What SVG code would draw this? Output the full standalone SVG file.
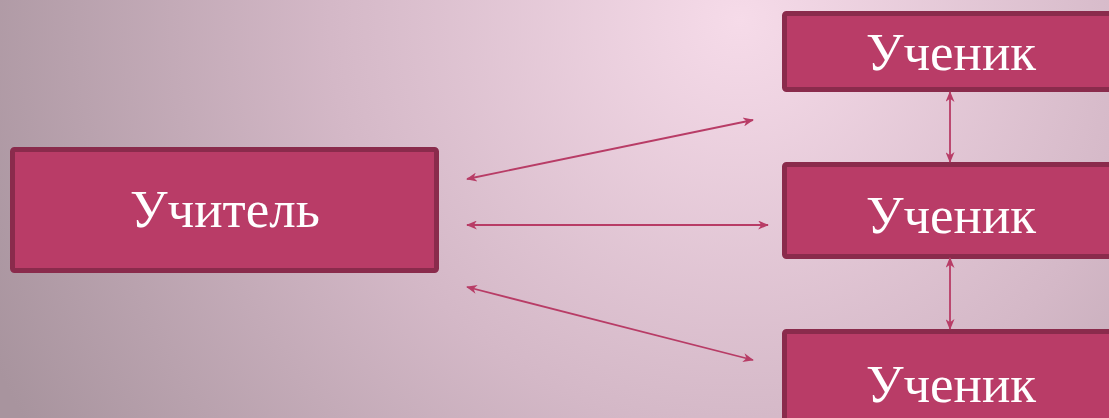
<svg xmlns="http://www.w3.org/2000/svg" width="1109" height="418" viewBox="0 0 1109 418">
<defs>
<radialGradient id="bg" gradientUnits="userSpaceOnUse" cx="740" cy="20" r="820">
<stop offset="0" stop-color="#f6dbe9"/>
<stop offset="0.5" stop-color="#d4b8c7"/>
<stop offset="1" stop-color="#a8949e"/>
</radialGradient>
<marker id="ah" viewBox="0 0 12 10" refX="11" refY="5" markerWidth="11" markerHeight="9" orient="auto-start-reverse" markerUnits="userSpaceOnUse">
<path d="M0,0 L12,5 L0,10 L3.5,5 Z" fill="#b83c66"/>
</marker>
</defs>
<style>
.box{fill:#b93c67;stroke:#8a2b4c;stroke-width:5}
.lbl{font-family:"Liberation Serif","Times New Roman",serif;font-size:53px;fill:#ffffff;text-anchor:middle}
.cn{stroke:#b83c66;stroke-width:1.8;fill:none;marker-start:url(#ah);marker-end:url(#ah)}
</style>
<rect width="1109" height="418" fill="url(#bg)"/>
<g id="teacher">
<rect class="box" x="12.5" y="149.5" width="424" height="121" rx="2"/>
<text class="lbl" x="225" y="227">Учитель</text>
</g>
<g id="student1">
<rect class="box" x="784.5" y="13.5" width="340" height="76" rx="2"/>
<text class="lbl" x="951" y="70">Ученик</text>
</g>
<g id="student2">
<rect class="box" x="784.5" y="164.5" width="340" height="92" rx="2"/>
<text class="lbl" x="951" y="233">Ученик</text>
</g>
<g id="student3">
<rect class="box" x="784.5" y="331.5" width="340" height="100" rx="2"/>
<text class="lbl" x="951" y="402">Ученик</text>
</g>
<g id="connectors">
<line class="cn" x1="467" y1="179" x2="753" y2="120"/>
<line class="cn" x1="467" y1="225" x2="768" y2="225"/>
<line class="cn" x1="467" y1="287" x2="753" y2="360"/>
<line class="cn" x1="950" y1="92" x2="950" y2="162"/>
<line class="cn" x1="950" y1="258" x2="950" y2="329"/>
</g>
</svg>
